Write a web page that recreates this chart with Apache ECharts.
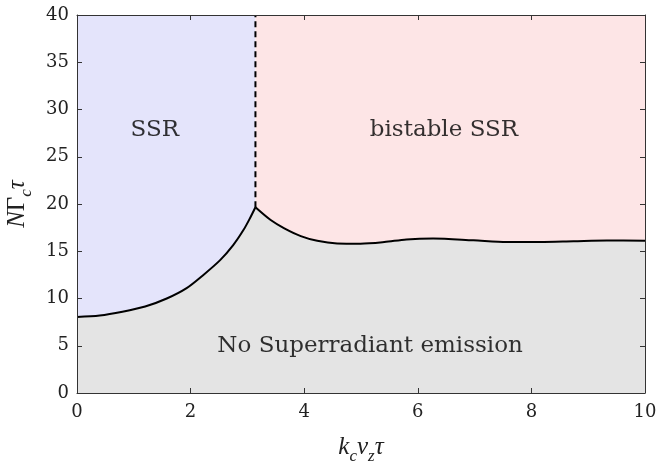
<!DOCTYPE html>
<html>
<head>
<meta charset="utf-8">
<script src="https://cdn.jsdelivr.net/npm/echarts@6/dist/echarts.min.js"></script>
<style>
html,body{margin:0;padding:0;background:#fff;}
#c{width:659px;height:465px;}
</style>
</head>
<body>
<div id="c"></div>
<script>
// Phase boundary data
const boundaryX = 3.1416;
const leftCurveX = [0, 0.4, 0.8, 1.2, 1.58, 1.93, 2.22, 2.52, 2.75, 2.93, 3.05, 3.1416];
const leftCurveY = [8.05, 8.2, 8.6, 9.15, 10.0, 11.1, 12.47, 14.06, 15.65, 17.24, 18.55, 19.65];
const rightCurveX = [3.1416, 3.41, 3.65, 3.94, 4.23, 4.58, 4.99, 5.41, 5.8, 6.27, 6.98, 7.57, 8.15, 8.74, 9.33, 10];
const rightCurveY = [19.65, 18.3, 17.42, 16.6, 16.1, 15.83, 15.8, 15.97, 16.25, 16.35, 16.16, 15.98, 15.98, 16.06, 16.14, 16.1];
const xTicks = [0, 2, 4, 6, 8, 10];
const yTicks = [0, 5, 10, 15, 20, 25, 30, 35, 40];
const regionLabels = [
  [1.37, 27.8, 'SSR'],
  [6.46, 27.8, 'bistable SSR'],
  [5.16, 5.0, 'No Superradiant emission']
];

const xMin = xTicks[0], xMax = xTicks[xTicks.length - 1];
const yMin = yTicks[0], yMax = yTicks[yTicks.length - 1];
const leftCurve = leftCurveX.map((x, i) => [x, leftCurveY[i]]);
const rightCurve = rightCurveX.map((x, i) => [x, rightCurveY[i]]);
const peakY = leftCurveY[leftCurveY.length - 1];

const font = '"DejaVu Serif"';
const font2 = 'serif';
const axisColor = '#333333';
const grayFill = 'rgb(228,228,228)';

const chart = echarts.init(document.getElementById('c'), null, {renderer: 'canvas'});
const baseAxis = {
  type: 'value',
  z: 10,
  axisLine: {show: true, onZero: false, lineStyle: {color: axisColor, width: 1}},
  axisTick: {show: true, inside: true, length: 5, lineStyle: {color: axisColor, width: 1}},
  splitLine: {show: false}
};
const curveOpts = {smooth: 0.3, showSymbol: false};
chart.setOption({
  animation: false,
  backgroundColor: '#ffffff',
  textStyle: {fontFamily: font},
  grid: {left: 77, right: 14, top: 15, bottom: 72, containLabel: false, outerBoundsMode: 'none'},
  xAxis: [
    Object.assign({}, baseAxis, {
      min: xMin, max: xMax, interval: 2, position: 'bottom',
      axisLabel: {color: '#222', fontFamily: font, fontSize: 18, margin: 10},
      name: '{i|k}{s|c}{i|v}{s|z}{i|τ}',
      nameLocation: 'middle', nameGap: 42,
      nameTextStyle: {
        rich: {
          i: {fontFamily: font2, fontStyle: 'italic', fontSize: 25, color: '#222', verticalAlign: 'bottom'},
          s: {fontFamily: font2, fontStyle: 'italic', fontSize: 17, color: '#222', verticalAlign: 'bottom', padding: [0, 0, -5, 0]}
        }
      }
    }),
    Object.assign({}, baseAxis, {
      min: xMin, max: xMax, interval: 2, position: 'top',
      axisLabel: {show: false}
    })
  ],
  yAxis: [
    Object.assign({}, baseAxis, {
      min: yMin, max: yMax, interval: 5, position: 'left',
      axisLabel: {color: '#222', fontFamily: font, fontSize: 18, margin: 8},
      name: '{i|N}{u|Γ}{s|c}{i|τ}',
      nameLocation: 'middle', nameGap: 44, nameRotate: 90,
      nameTextStyle: {
        rich: {
          i: {fontFamily: font2, fontStyle: 'italic', fontSize: 25, color: '#222', verticalAlign: 'bottom'},
          u: {fontFamily: font2, fontSize: 25, color: '#222', verticalAlign: 'bottom'},
          s: {fontFamily: font2, fontStyle: 'italic', fontSize: 17, color: '#222', verticalAlign: 'bottom', padding: [0, 0, -5, 0]}
        }
      }
    }),
    Object.assign({}, baseAxis, {
      min: yMin, max: yMax, interval: 5, position: 'right',
      axisLabel: {show: false}
    })
  ],
  series: [
    {
      name: 'SSR region', type: 'line', z: 1,
      data: [[xMin, yMax], [boundaryX, yMax]],
      showSymbol: false, lineStyle: {width: 0},
      areaStyle: {color: 'rgb(228,228,251)', opacity: 1}
    },
    {
      name: 'bistable region', type: 'line', z: 1,
      data: [[boundaryX, yMax], [xMax, yMax]],
      showSymbol: false, lineStyle: {width: 0},
      areaStyle: {color: 'rgb(253,229,230)', opacity: 1}
    },
    Object.assign({
      name: 'left area', type: 'line', z: 2, data: leftCurve,
      lineStyle: {width: 0}, areaStyle: {color: grayFill, opacity: 1}
    }, curveOpts),
    Object.assign({
      name: 'right area', type: 'line', z: 2, data: rightCurve,
      lineStyle: {width: 0}, areaStyle: {color: grayFill, opacity: 1}
    }, curveOpts),
    {
      name: 'seam', type: 'line', z: 2,
      data: [[boundaryX, yMin], [boundaryX, peakY]],
      showSymbol: false,
      lineStyle: {color: grayFill, width: 2}
    },
    Object.assign({
      name: 'left boundary', type: 'line', z: 3, data: leftCurve,
      lineStyle: {color: '#000', width: 2}
    }, curveOpts),
    Object.assign({
      name: 'right boundary', type: 'line', z: 3, data: rightCurve,
      lineStyle: {color: '#000', width: 2}
    }, curveOpts),
    {
      name: 'dashed boundary', type: 'line', z: 4,
      data: [[boundaryX, peakY], [boundaryX, yMax]],
      showSymbol: false,
      lineStyle: {color: '#000', width: 2, type: [6, 4]}
    },
    {
      name: 'labels', type: 'scatter', z: 5,
      data: regionLabels.map(d => ({value: [d[0], d[1]], name: d[2]})),
      symbolSize: 0,
      label: {
        show: true, position: 'inside', formatter: p => p.name,
        fontFamily: font, fontSize: 23, color: '#000'
      }
    }
  ]
});
</script>
</body>
</html>
